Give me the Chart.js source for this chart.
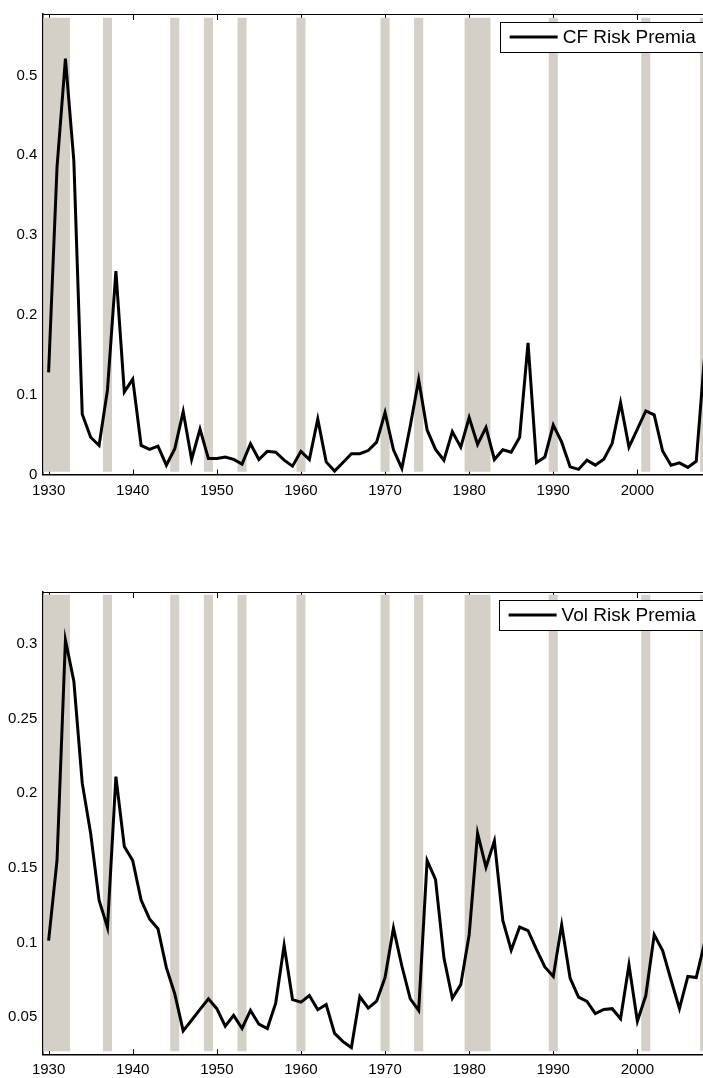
<!DOCTYPE html>
<html>
<head>
<meta charset="utf-8">
<script src="https://cdn.jsdelivr.net/npm/chart.js@4.4.0/dist/chart.umd.min.js"></script>
<style>
  html, body { margin: 0; padding: 0; background: #fff; width: 703px; height: 1078px; overflow: hidden; position: relative; }
  .panel { position: absolute; left: 0; }
</style>
</head>
<body>
<div class="panel" style="top:0px"><canvas id="cfChart" width="760" height="520"></canvas></div>
<div class="panel" style="top:578px"><canvas id="volChart" width="760" height="500"></canvas></div>
<script>
var years = [1930, 1931, 1932, 1933, 1934, 1935, 1936, 1937, 1938, 1939,
    1940, 1941, 1942, 1943, 1944, 1945, 1946, 1947, 1948, 1949,
    1950, 1951, 1952, 1953, 1954, 1955, 1956, 1957, 1958, 1959,
    1960, 1961, 1962, 1963, 1964, 1965, 1966, 1967, 1968, 1969,
    1970, 1971, 1972, 1973, 1974, 1975, 1976, 1977, 1978, 1979,
    1980, 1981, 1982, 1983, 1984, 1985, 1986, 1987, 1988, 1989,
    1990, 1991, 1992, 1993, 1994, 1995, 1996, 1997, 1998, 1999,
    2000, 2001, 2002, 2003, 2004, 2005, 2006, 2007, 2008];

var cfPremia = [0.128, 0.385, 0.521, 0.393, 0.0755, 0.0467, 0.0364, 0.106, 0.255, 0.1035,
    0.1195, 0.0364, 0.0315, 0.0356, 0.0117, 0.0323, 0.0788, 0.019, 0.057, 0.020,
    0.020, 0.022, 0.019, 0.013, 0.0385, 0.0188, 0.029, 0.028, 0.018, 0.0105,
    0.029, 0.0188, 0.0694, 0.0158, 0.0043, 0.015, 0.026, 0.026, 0.030, 0.0405,
    0.0775, 0.031, 0.0076, 0.061, 0.1187, 0.0558, 0.0315, 0.0179, 0.0537, 0.0343,
    0.0714, 0.0377, 0.059, 0.0188, 0.031, 0.028, 0.0467, 0.165, 0.015, 0.022,
    0.062, 0.0405, 0.0096, 0.0064, 0.018, 0.0117, 0.019, 0.039, 0.090, 0.0343,
    0.057, 0.0796, 0.0747, 0.0294, 0.0117, 0.0146, 0.0089, 0.0167, 0.150];

var volPremia = [0.1012, 0.155, 0.3028, 0.2752, 0.2068, 0.173, 0.1284, 0.110, 0.2112, 0.1644,
    0.1549, 0.1284, 0.1158, 0.1092, 0.0831, 0.0655, 0.0407, 0.0478, 0.0551, 0.0622,
    0.0556, 0.0438, 0.0511, 0.0423, 0.0544, 0.0452, 0.0423, 0.0593, 0.0981, 0.0617,
    0.060, 0.0644, 0.0549, 0.0584, 0.039, 0.0335, 0.0295, 0.0637, 0.056, 0.0606,
    0.0765, 0.1096, 0.0842, 0.0622, 0.0544, 0.1549, 0.1423, 0.0897, 0.0626, 0.0717,
    0.1052, 0.1732, 0.1505, 0.1681, 0.1147, 0.0948, 0.1103, 0.1079, 0.0953, 0.0836,
    0.0772, 0.1118, 0.0761, 0.0633, 0.0604, 0.0523, 0.0551, 0.0556, 0.0489, 0.0849,
    0.0472, 0.0644, 0.1052, 0.0946, 0.0748, 0.0556, 0.0772, 0.0765, 0.100];

// shaded recession years (one bar per year)
var recessionYears = [1929, 1930, 1931, 1932, 1937, 1945, 1949, 1953, 1960,
    1970, 1974, 1980, 1981, 1982, 1990, 2001, 2008];

var yearTicks = [1930, 1940, 1950, 1960, 1970, 1980, 1990, 2000, 2010];
var cfTicks = [0, 0.1, 0.2, 0.3, 0.4, 0.5];
var volTicks = [0.05, 0.1, 0.15, 0.2, 0.25, 0.3];

Chart.defaults.font.family = '"Liberation Sans", Arial, Helvetica, sans-serif';
Chart.defaults.font.size = 15;
Chart.defaults.color = '#000';

// matlab style frame: top line + inward ticks (drawn under the bands)
var frameTicks = {
    id: 'frameTicks',
    beforeDatasetsDraw: function(chart) {
        var c = chart.ctx, a = chart.chartArea, x = chart.scales.x;
        c.save();
        c.strokeStyle = '#000';
        c.lineWidth = 1;
        c.beginPath();
        c.moveTo(a.left, a.top + 0.5);
        c.lineTo(a.right, a.top + 0.5);
        x.ticks.forEach(function(t) {
            var px = Math.round(x.getPixelForValue(t.value)) + 0.5;
            c.moveTo(px, a.top);
            c.lineTo(px, a.top + 6);
            c.moveTo(px, a.bottom);
            c.lineTo(px, a.bottom - 5);
        });
        c.stroke();
        c.restore();
    }
};

// boxed legend in the upper right corner of the plot
var boxLegend = {
    id: 'boxLegend',
    afterDraw: function(chart) {
        var ds = chart.data.datasets[0];
        var a = chart.chartArea, c = chart.ctx;
        c.save();
        c.font = '19px "Liberation Sans", Arial, sans-serif';
        var tw = c.measureText(ds.label).width;
        var right = a.right - 20;
        var left = right - (10 + 48 + 5 + tw + 10);
        var top = a.top + 8;
        var h = 30;
        c.fillStyle = '#fff';
        c.fillRect(left, top, right - left, h);
        c.strokeStyle = '#000';
        c.lineWidth = 1;
        c.strokeRect(Math.round(left) + 0.5, Math.round(top) + 0.5, Math.round(right - left), h);
        c.strokeStyle = ds.borderColor;
        c.lineWidth = ds.borderWidth;
        c.beginPath();
        c.moveTo(left + 10, top + h / 2);
        c.lineTo(left + 58, top + h / 2);
        c.stroke();
        c.fillStyle = '#000';
        c.textBaseline = 'middle';
        c.fillText(ds.label, left + 63, top + h / 2 + 1);
        c.restore();
    }
};

function makePanel(id, label, values, yMin, yMax, bandLow, bandHigh, tickList, padTop, xHeight) {
    var ctx = document.getElementById(id).getContext('2d');
    return new Chart(ctx, {
        type: 'line',
        data: {
            datasets: [{
                type: 'line',
                label: label,
                data: years.map(function(y, i) { return {x: y, y: values[i]}; }),
                borderColor: '#000',
                borderWidth: 3,
                pointRadius: 0,
                tension: 0,
                order: 0
            }, {
                type: 'bar',
                label: 'Recession',
                data: recessionYears.map(function(y) { return {x: y, y: [bandLow, bandHigh]}; }),
                backgroundColor: '#d4d0c8',
                borderWidth: 0,
                barPercentage: 1,
                categoryPercentage: 1,
                clip: {left: -1, top: 0, right: 0, bottom: 0},
                order: 1
            }]
        },
        options: {
            responsive: false,
            animation: false,
            // right part of the plot runs past the 703px window, as in the source
            layout: { padding: { top: padTop, left: 0, right: 34.3, bottom: 0 } },
            plugins: { legend: { display: false }, tooltip: { enabled: false } },
            scales: {
                x: {
                    type: 'linear',
                    min: 1929.25,
                    max: 2010.5,
                    offset: false,
                    grid: { drawOnChartArea: false, drawTicks: false },
                    border: { display: true, color: '#000', width: 1.5 },
                    afterBuildTicks: function(axis) { axis.ticks = yearTicks.map(function(v) { return {value: v}; }); },
                    afterFit: function(axis) { axis.height = xHeight; },
                    ticks: { padding: 7, maxRotation: 0, callback: function(v) { return String(v); } }
                },
                y: {
                    min: yMin,
                    max: yMax,
                    grid: { drawOnChartArea: false, drawTicks: false },
                    border: { display: true, color: '#000', width: 1.5 },
                    afterBuildTicks: function(axis) { axis.ticks = tickList.map(function(v) { return {value: v}; }); },
                    afterFit: function(axis) { axis.width = 42.3; },
                    ticks: { padding: 5, callback: function(v) { return String(v); } }
                }
            }
        },
        plugins: [frameTicks, boxLegend]
    });
}

var cfChart = makePanel('cfChart', 'CF Risk Premia', cfPremia, 0, 0.577, 0.004, 0.572, cfTicks, 7, 45.5);
var volChart = makePanel('volChart', 'Vol Risk Premia', volPremia, 0.025, 0.335, 0.0273, 0.333, volTicks, 7.7, 23.7);
</script>
</body>
</html>
